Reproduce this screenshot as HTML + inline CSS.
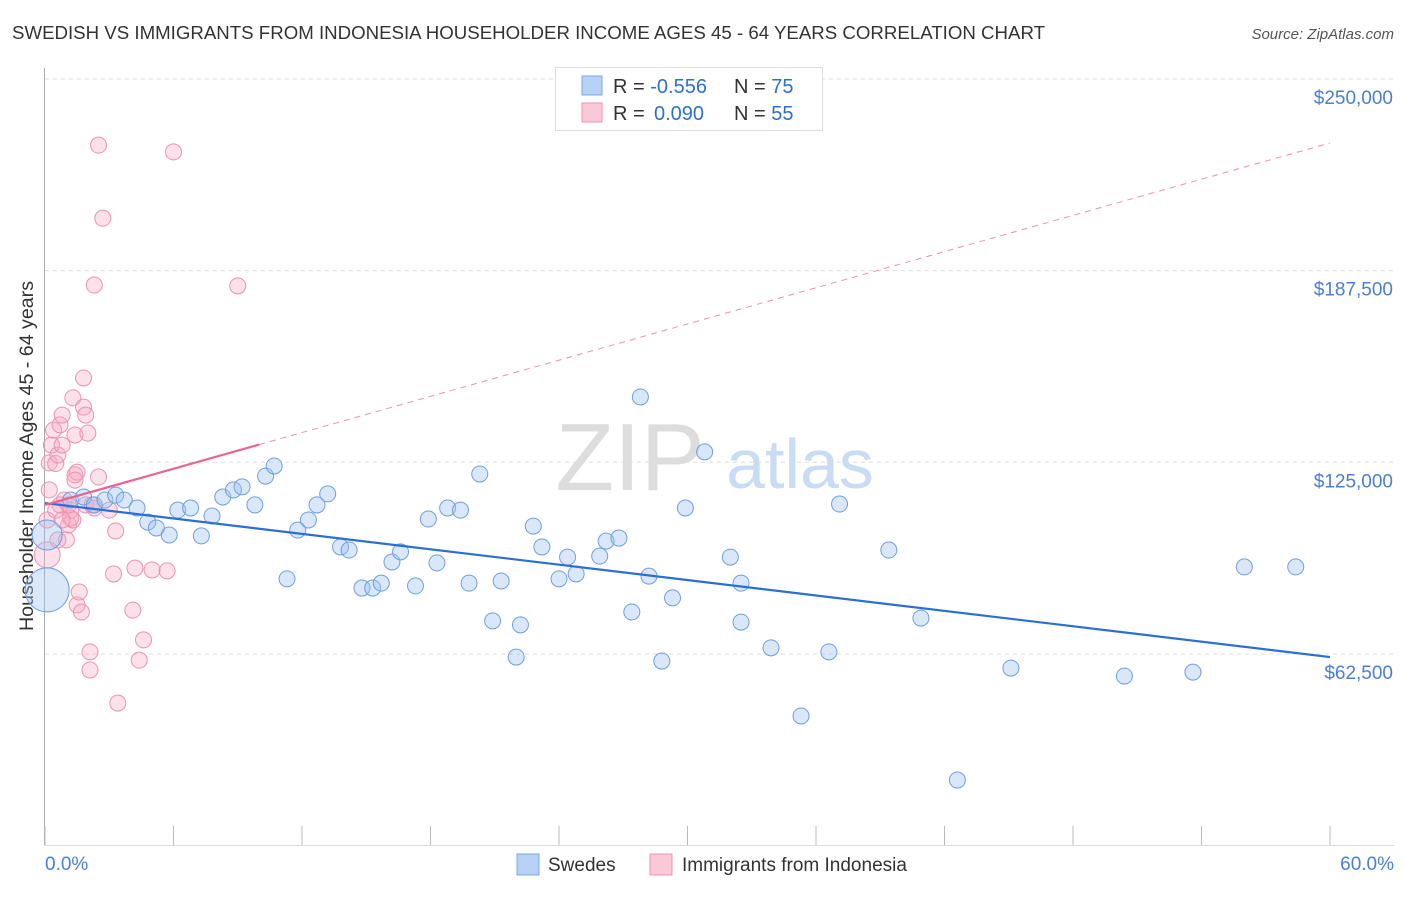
<!DOCTYPE html>
<html><head><meta charset="utf-8"><style>
body{margin:0;background:#fff;font-family:"Liberation Sans",sans-serif;}
svg text{font-family:"Liberation Sans",sans-serif;}
</style></head><body>
<svg id="chart" width="1406" height="892" xmlns="http://www.w3.org/2000/svg">
<text x="12" y="39" font-size="18" fill="#333" textLength="1033" lengthAdjust="spacingAndGlyphs">SWEDISH VS IMMIGRANTS FROM INDONESIA HOUSEHOLDER INCOME AGES 45 - 64 YEARS CORRELATION CHART</text>
<text x="1394" y="39" font-size="15" fill="#555" font-style="italic" text-anchor="end">Source: ZipAtlas.com</text>
<text x="0" y="0" font-size="19" fill="#333" text-anchor="middle" textLength="350" lengthAdjust="spacingAndGlyphs" transform="translate(33,456) rotate(-90)">Householder Income Ages 45 - 64 years</text>
<g><text x="630" y="490" font-size="96" fill="#ddd" font-family="Liberation Serif" text-anchor="middle">ZIP</text><text x="800" y="488" font-size="70" fill="#c9dcf3" text-anchor="middle">atlas</text></g>
<g id="grid"></g><g id="axes"></g><g id="pts"></g><g id="lines"></g>
<g>
<rect x="555.5" y="67.5" width="267" height="63" fill="#fff" stroke="#ddd"/>
<rect x="582" y="76" width="20" height="19" fill="#b8d2f5" stroke="#7aa8e6"/>
<rect x="582" y="103" width="20" height="19" fill="#fbc8d8" stroke="#ee92b0"/>
<text x="613" y="93" font-size="20" fill="#333">R = <tspan fill="#2f6fd0">-0.556</tspan><tspan x="734">N = </tspan><tspan fill="#2f6fd0">75</tspan></text>
<text x="613" y="120" font-size="20" fill="#333">R = <tspan fill="#2f6fd0" x="654">0.090</tspan><tspan x="734">N = </tspan><tspan fill="#2f6fd0">55</tspan></text>
</g>
<g>
<rect x="517" y="854" width="22" height="21" fill="#b8d2f5" stroke="#7aa8e6"/>
<text x="548" y="871" font-size="19" fill="#333">Swedes</text>
<rect x="650" y="854" width="22" height="21" fill="#fbc8d8" stroke="#ee92b0"/>
<text x="682" y="871" font-size="19" fill="#333">Immigrants from Indonesia</text>
</g>
<text x="45" y="870" font-size="19" fill="#4a7fd4">0.0%</text>
<text x="1394" y="870" font-size="19" fill="#4a7fd4" text-anchor="end">60.0%</text>
</svg>
<script>
const yTicks=[62.5,125,187.5,250];
const yTickLabels=["$62,500","$125,000","$187,500","$250,000"];
const blueX=[0.1,0.1,1.2,1.8,2.3,2.8,3.3,3.7,4.3,4.8,5.2,5.8,6.2,6.8,7.3,7.8,8.3,8.8,9.2,9.8,10.3,10.7,11.3,11.8,12.3,12.7,13.2,13.8,14.2,14.8,15.3,15.7,16.2,16.6,17.3,17.9,18.3,18.8,19.4,19.8,20.3,20.9,21.3,22.0,22.2,22.8,23.2,24.0,24.4,24.8,25.9,26.2,26.8,27.4,27.8,28.2,28.8,29.3,29.9,30.8,32.0,32.5,32.5,33.9,35.3,36.6,37.1,39.4,40.9,42.6,45.1,50.4,53.6,56.0,58.4];
const blueY=[83.4,101.3,112.7,113.7,111.1,112.7,114.3,112.7,110.1,105.5,103.6,101.3,109.4,110.1,101.0,107.5,113.7,116.0,117.0,111.1,120.5,123.8,87.0,102.9,106.2,111.1,114.7,97.4,96.4,84.0,84.0,85.6,92.5,95.8,84.7,106.5,92.2,110.1,109.4,85.6,121.2,73.3,86.3,61.5,72.0,104.2,97.4,87.0,94.1,88.6,94.4,99.3,100.3,76.2,146.3,87.9,60.2,80.8,110.1,128.4,94.1,85.6,72.9,64.5,42.3,63.2,111.4,96.4,74.2,21.4,57.9,55.3,56.6,90.9,90.9];
const blueSize=[22,15];
const pinkX=[0.1,0.1,0.2,0.2,0.3,0.4,0.5,0.6,0.7,0.8,0.8,0.9,1.0,1.1,1.2,1.3,1.3,1.4,1.4,1.5,1.5,1.6,1.7,1.8,1.8,1.9,2.0,2.1,2.1,2.2,2.3,2.5,2.5,2.7,3.0,3.2,3.3,3.4,4.1,4.2,4.4,4.6,5.0,5.7,6.0,9.0,0.7,0.5,2.3,1.2,1.1,1.4,1.9,0.6,0.8];
const pinkY=[94.8,106.2,116.0,124.8,130.6,135.5,124.6,127.4,137.2,140.4,130.6,112.7,99.7,104.6,109.4,106.2,146.0,120.9,133.9,78.5,121.8,82.7,76.2,152.5,143.0,111.1,134.5,63.2,57.3,111.1,182.8,228.4,120.2,204.6,109.4,88.6,102.6,46.5,76.8,90.5,60.5,67.1,89.9,89.6,226.2,182.5,111.1,109.4,110.1,106.8,111.1,119.2,140.4,99.7,106.2];
const pinkSize=[13];
const blueTrend=[111.7,61.5];
const pinkTrend=[111.1,229.1];
const pinkSolidEnd=10;
const NS="http://www.w3.org/2000/svg";
const X0=45,X1=1330,Y0=654,Ypx=191.7;
function sx(p){return X0+(p/60)*(X1-X0);}
function sy(v){return Y0-(v-62.5)/62.5*Ypx;}
function mk(tag,at,parent){const e=document.createElementNS(NS,tag);for(const k in at)e.setAttribute(k,at[k]);document.getElementById(parent).appendChild(e);return e;}
yTicks.forEach((t,i)=>{
 const l=mk('line',{x1:45,x2:1395,y1:sy(t),y2:sy(t),stroke:'#ddd','stroke-dasharray':'4,4'},'grid');
 
 
 const tx=mk('text',{x:1393,y:sy(t)+25,'font-size':19,fill:'#4a7fd4','text-anchor':'end'},'grid');
 tx.textContent=yTickLabels[i];
 
 
});
const ax=mk('line',{x1:44.5,x2:44.5,y1:68,y2:845,stroke:'#aaa'},'axes');


const bx=mk('line',{x1:44,x2:1395,y1:845.5,y2:845.5,stroke:'#ddd'},'axes');


for(let i=0;i<=10;i++){
 const t=mk('line',{x1:sx(i*6),x2:sx(i*6),y1:826,y2:845,stroke:'#bbb'},'axes');
 
 
}
pinkX.forEach((x,i)=>{
 const c=mk('circle',{cx:sx(x),cy:sy(pinkY[i]),r:pinkSize[i]||8,fill:'rgba(246,170,196,0.35)',stroke:'#eb93b1','stroke-width':1},'pts');
 
 
});
blueX.forEach((x,i)=>{
 const c=mk('circle',{cx:sx(x),cy:sy(blueY[i]),r:blueSize[i]||8,fill:'rgba(160,196,240,0.4)',stroke:'#6f9fe0','stroke-width':1},'pts');
 
 
});
const bl=mk('line',{x1:sx(0),y1:sy(blueTrend[0]),x2:sx(60),y2:sy(blueTrend[1]),stroke:'#2a6fd6','stroke-width':2.2},'lines');


const pAt=p=>pinkTrend[0]+(pinkTrend[1]-pinkTrend[0])*p/60;
const pl=mk('line',{x1:sx(0),y1:sy(pAt(0)),x2:sx(pinkSolidEnd),y2:sy(pAt(pinkSolidEnd)),stroke:'#e8658f','stroke-width':2.2},'lines');


const pd=mk('line',{x1:sx(pinkSolidEnd),y1:sy(pAt(pinkSolidEnd)),x2:sx(60),y2:sy(pAt(60)),stroke:'#eb93b1','stroke-width':1,'stroke-dasharray':'6,5'},'lines');


</script>
</body></html>
